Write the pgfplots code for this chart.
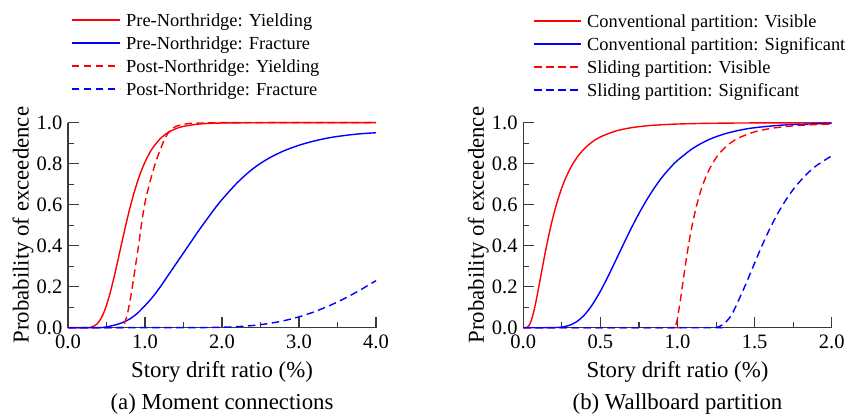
\documentclass[border=0pt]{standalone}
\usepackage{fontspec}
\setmainfont{Liberation Serif}
\usepackage{pgfplots}
\usepackage{pgfplotstable}
\pgfplotsset{compat=1.18}

\definecolor{axisgray}{HTML}{3A3A3A}
\definecolor{cred}{HTML}{FF0000}
\definecolor{cblue}{HTML}{0000FF}

% ---------- (a) moment connections ----------
\pgfplotstableread{
x y
0 0
0.25 0.0004
0.30 0.0027
0.35 0.0104
0.40 0.0284
0.45 0.0608
0.50 0.1096
0.55 0.1736
0.60 0.2495
0.65 0.332
0.70 0.417
0.75 0.5
0.80 0.578
0.85 0.648
0.90 0.7096
0.95 0.763
1.00 0.808
1.05 0.846
1.10 0.877
1.20 0.9228
1.30 0.9522
1.40 0.9707
1.50 0.9821
1.70 0.9934
2.00 0.9985
2.50 0.9999
3.00 1
4.00 1
}\preYield
\pgfplotstableread{
x y
0 0
0.40 0
0.50 0.004
0.60 0.012
0.70 0.024
0.80 0.042
0.90 0.07
1.00 0.108
1.10 0.15
1.20 0.20
1.30 0.255
1.40 0.31
1.50 0.365
1.60 0.42
1.70 0.475
1.80 0.527
1.90 0.578
2.00 0.625
2.20 0.708
2.40 0.775
2.60 0.825
2.80 0.862
3.00 0.89
3.20 0.911
3.40 0.927
3.60 0.938
3.80 0.946
4.00 0.951
}\preFract
\pgfplotstableread{
x y
0 0
0.66 0
0.70 0.004
0.72 0.012
0.76 0.05
0.80 0.12
0.84 0.21
0.88 0.31
0.92 0.41
0.96 0.52
1.00 0.61
1.05 0.69
1.10 0.76
1.15 0.82
1.20 0.87
1.25 0.915
1.30 0.95
1.35 0.97
1.40 0.982
1.50 0.992
1.60 0.997
1.80 0.999
2.00 1
4.00 1
}\postYield
\pgfplotstableread{
x y
0 0
1.50 0.0001
1.80 0.0008
2.00 0.0022
2.20 0.0052
2.40 0.0107
2.60 0.0200
2.80 0.0338
3.00 0.0529
3.20 0.0778
3.40 0.1082
3.60 0.144
3.80 0.185
4.00 0.2293
}\postFract

% ---------- (b) wallboard partition ----------
\pgfplotstableread{
x y
0 0
0.01 0
0.02 0.0007
0.03 0.0047
0.04 0.0146
0.05 0.0317
0.06 0.0557
0.07 0.0855
0.08 0.120
0.09 0.1575
0.10 0.197
0.12 0.278
0.14 0.358
0.16 0.432
0.18 0.5
0.20 0.561
0.22 0.614
0.25 0.683
0.28 0.739
0.32 0.798
0.36 0.8425
0.40 0.8764
0.45 0.908
0.50 0.9307
0.60 0.9595
0.70 0.9755
0.80 0.9847
0.90 0.9901
1.00 0.9935
1.20 0.997
1.50 0.9989
2.00 0.9998
}\convVis
\pgfplotstableread{
x y
0 0
0.15 0
0.20 0.0004
0.25 0.003
0.30 0.0117
0.35 0.0314
0.40 0.0655
0.45 0.115
0.50 0.178
0.55 0.251
0.60 0.329
0.65 0.408
0.70 0.485
0.75 0.557
0.80 0.623
0.85 0.682
0.90 0.734
0.95 0.778
1.00 0.816
1.10 0.875
1.20 0.9164
1.30 0.9443
1.40 0.963
1.50 0.9755
1.70 0.9892
2.00 0.9968
}\convSig
\pgfplotstableread{
x y
0 0
0.96 0
0.98 0.0015
0.99 0.0155
1.00 0.0466
1.02 0.1405
1.04 0.2476
1.06 0.3496
1.08 0.440
1.10 0.518
1.13 0.614
1.16 0.689
1.20 0.763
1.25 0.8287
1.30 0.873
1.35 0.9046
1.40 0.927
1.50 0.9554
1.60 0.9715
1.70 0.981
1.80 0.987
1.90 0.9909
2.00 0.9934
}\slideVis
\pgfplotstableread{
x y
0 0
1.20 0
1.25 0.0006
1.30 0.018
1.35 0.062
1.40 0.14
1.45 0.225
1.50 0.315
1.55 0.404
1.60 0.485
1.65 0.557
1.70 0.620
1.75 0.674
1.80 0.719
1.85 0.758
1.90 0.790
1.95 0.815
2.00 0.838
}\slideSig

\pgfplotsset{
  fragility/.style={
    scale only axis, width=308bp, height=205bp,
    xmin=0, ymin=0, ymax=1,
    axis lines=left,
    axis line style={-, axisgray, line width=1.1bp},
    every tick/.style={axisgray, line width=1.1bp},
    tick align=inside,
    major tick length=10.5bp, minor tick length=5.5bp,
    ytick={0,0.2,0.4,0.6,0.8,1.0},
    yticklabels={0.0,0.2,0.4,0.6,0.8,1.0},
    minor ytick={0.1,0.3,0.5,0.7,0.9},
    tick label style={font=\fontsize{20.5bp}{24bp}\selectfont, inner sep=0pt},
    xticklabel style={anchor=base, yshift=-20.6bp},
    yticklabel style={anchor=east, xshift=-5.5bp},
    every axis x label/.style={at={(axis description cs:0.5,-0.2439)}, anchor=base,
      font=\fontsize{22.8bp}{27bp}\selectfont},
    every axis y label/.style={at={(axis description cs:-0.1282,0.5)}, rotate=90, anchor=base,
      font=\fontsize{22.8bp}{27bp}\selectfont},
    every axis title/.style={at={(axis description cs:0.5,-0.3966)}, anchor=base,
      font=\fontsize{22.8bp}{27bp}\selectfont},
    xlabel={Story drift ratio (\%)},
    ylabel={Probability of exceedence},
    clip=false,
  },
  curve/.style={line width=1.4bp, smooth},
  key/.style={line width=1.4bp, forget plot},
  dashed curve/.style={dash pattern=on 7.5bp off 4.5bp},
}
\tikzset{keytext/.style={anchor=base west, inner sep=0pt,
  font=\fontsize{18.4bp}{22bp}\selectfont}}

\begin{document}
\begin{tikzpicture}
\useasboundingbox (0,0) rectangle (848bp,416bp);

\begin{axis}[fragility,
  at={(68bp,88.3bp)}, anchor=south west,
  xmax=4,
  xtick={0,1,2,3,4}, xticklabels={0.0,1.0,2.0,3.0,4.0},
  minor xtick={0.5,1.5,2.5,3.5},
  title={(a) Moment connections},
]
\addplot[cred, curve] table[x=x,y=y] {\preYield};
\addplot[cblue, curve] table[x=x,y=y] {\preFract};
\addplot[cred, curve, dashed curve] table[x=x,y=y] {\postYield};
\addplot[cblue, curve, dashed curve] table[x=x,y=y] {\postFract};
% key above the plot
\addplot[cred, key] coordinates {(0.0519,1.5010) (0.6753,1.5010)};
\addplot[cblue, key] coordinates {(0.0519,1.3888) (0.6753,1.3888)};
\addplot[cred, key, dashed curve] coordinates {(0.0519,1.2766) (0.6753,1.2766)};
\addplot[cblue, key, dashed curve] coordinates {(0.0519,1.1644) (0.6753,1.1644)};
\node[keytext] at (axis cs:0.7532,1.4683) {Pre-Northridge: Yielding};
\node[keytext] at (axis cs:0.7532,1.3561) {Pre-Northridge: Fracture};
\node[keytext] at (axis cs:0.7532,1.2439) {Post-Northridge: Yielding};
\node[keytext] at (axis cs:0.7532,1.1317) {Post-Northridge: Fracture};
\end{axis}

\begin{axis}[fragility,
  at={(523.3bp,88.3bp)}, anchor=south west,
  width=308.4bp,
  xmax=2,
  xtick={0,0.5,1,1.5,2}, xticklabels={0.0,0.5,1.0,1.5,2.0},
  minor xtick={0.25,0.75,1.25,1.75},
  title={(b) Wallboard partition},
]
\addplot[cred, curve] table[x=x,y=y] {\convVis};
\addplot[cblue, curve] table[x=x,y=y] {\convSig};
\addplot[cred, curve, dashed curve] table[x=x,y=y] {\slideVis};
\addplot[cblue, curve, dashed curve] table[x=x,y=y] {\slideSig};
% key above the plot
\addplot[cred, key] coordinates {(0.0694,1.4961) (0.3742,1.4961)};
\addplot[cblue, key] coordinates {(0.0694,1.3839) (0.3742,1.3839)};
\addplot[cred, key, dashed curve] coordinates {(0.0694,1.2717) (0.3742,1.2717)};
\addplot[cblue, key, dashed curve] coordinates {(0.0694,1.1595) (0.3742,1.1595)};
\node[keytext] at (axis cs:0.4131,1.4634) {Conventional partition: Visible};
\node[keytext] at (axis cs:0.4131,1.3512) {Conventional partition: Significant};
\node[keytext] at (axis cs:0.4131,1.2390) {Sliding partition: Visible};
\node[keytext] at (axis cs:0.4131,1.1268) {Sliding partition: Significant};
\end{axis}
\end{tikzpicture}
\end{document}
